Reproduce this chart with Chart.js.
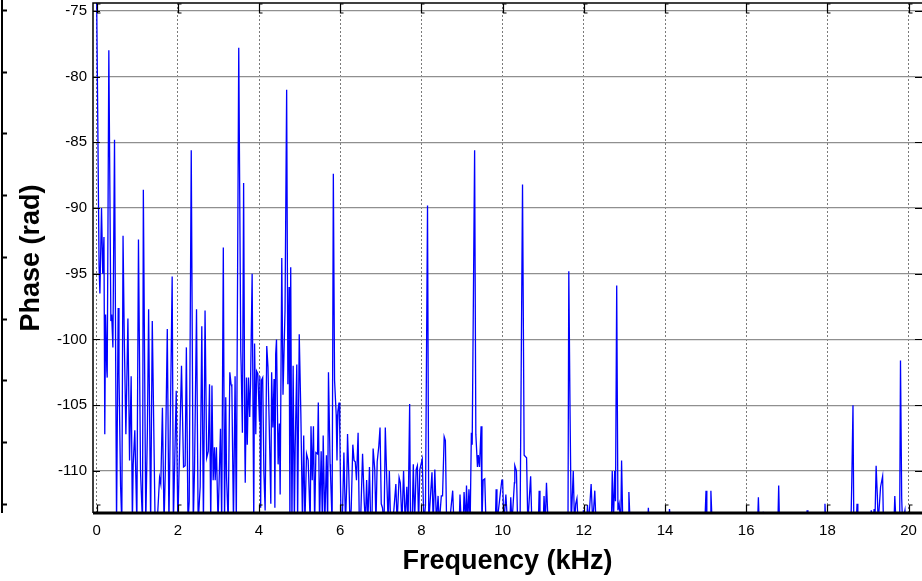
<!DOCTYPE html>
<html>
<head>
<meta charset="utf-8">
<title>Phase spectrum</title>
<script src="https://cdn.jsdelivr.net/npm/chart.js@4.4.1/dist/chart.umd.min.js"></script>
<style>
    html, body { margin: 0; padding: 0; background: #fff; }
    canvas { display: block; }
</style>
</head>
<body>
<canvas id="phaseChart" width="922" height="581"></canvas>
<script>
// values; -114 = below the axis floor (clipped)
const freqKHz = [
    0.00, 0.06, 0.08, 0.12, 0.15, 0.18, 0.20, 0.22, 0.25, 0.26, 0.30, 0.35, 0.37, 0.40, 0.44, 0.49,
    0.53, 0.55, 0.59, 0.62, 0.65, 0.68, 0.72, 0.77, 0.81, 0.85, 0.88, 0.90, 0.94, 0.99, 1.03, 1.08,
    1.13, 1.15, 1.21, 1.25, 1.28, 1.33, 1.37, 1.44, 1.49, 1.55, 1.58, 1.62, 1.66, 1.69, 1.74, 1.78, 1.81,
    1.86, 1.89, 1.96, 2.00, 2.09, 2.14, 2.18, 2.21, 2.25, 2.28, 2.33, 2.38, 2.41, 2.46, 2.50, 2.55,
    2.59, 2.63, 2.67, 2.71, 2.75, 2.78, 2.81, 2.84, 2.87, 2.90, 2.92, 2.95, 2.99, 3.05, 3.08, 3.12,
    3.15, 3.18, 3.20, 3.24, 3.28, 3.31, 3.33, 3.37, 3.41, 3.44, 3.50, 3.55, 3.56, 3.59, 3.62, 3.65,
    3.66, 3.69, 3.71, 3.74, 3.77,
    3.79, 3.83, 3.87, 3.89, 3.92, 3.94, 3.97, 4.01, 4.02, 4.04, 4.06, 4.09, 4.12, 4.15, 4.19, 4.22,
    4.25, 4.29, 4.31, 4.34, 4.37, 4.39, 4.41, 4.43, 4.47, 4.50, 4.52, 4.56, 4.59, 4.64, 4.68, 4.71,
    4.74, 4.76, 4.78, 4.81, 4.84, 4.87, 4.89, 4.93, 4.95, 4.99, 5.03, 5.07, 5.10, 5.13, 5.17, 5.21,
    5.26, 5.28, 5.31, 5.34, 5.37, 5.40, 5.44, 5.46, 5.49, 5.53, 5.56, 5.58, 5.62, 5.66, 5.69, 5.71, 5.75,
    5.76, 5.80, 5.83, 5.86, 5.90, 5.92, 5.94, 5.97, 5.99, 6.02, 6.05, 6.09, 6.13, 6.16, 6.18, 6.21,
    6.24, 6.27, 6.31, 6.34, 6.37, 6.40, 6.44, 6.47, 6.50, 6.55, 6.59, 6.62, 6.65, 6.68, 6.72, 6.75,
    6.78, 6.81, 6.85, 6.88, 6.91, 6.95, 6.98, 7.01, 7.04, 7.08, 7.11, 7.14, 7.18, 7.21, 7.24, 7.28,
    7.32, 7.37, 7.40, 7.45, 7.48, 7.52, 7.56, 7.60, 7.64, 7.67, 7.71, 7.73, 7.77, 7.80, 7.83, 7.87,
    7.90, 7.93, 7.96,
    8.02, 8.06, 8.10, 8.15, 8.18, 8.26, 8.29, 8.33, 8.37, 8.41, 8.44, 8.49, 8.52, 8.56, 8.59, 8.62,
    8.69, 8.77, 8.80, 8.93, 8.95, 8.98, 9.03, 9.05, 9.09, 9.11, 9.14, 9.17, 9.20, 9.23, 9.25, 9.31,
    9.34, 9.38, 9.40, 9.43, 9.47, 9.49, 9.52, 9.56, 9.59, 9.82, 9.84, 9.86, 9.98, 10.00, 10.03, 10.08,
    10.12, 10.18, 10.20, 10.23, 10.29, 10.30, 10.34, 10.37, 10.43, 10.49, 10.53, 10.59, 10.62, 10.69,
    10.72, 10.88, 10.90, 10.92, 11.00, 11.02, 11.05, 11.08, 11.12, 11.61, 11.63, 11.66, 11.69, 11.74,
    11.77, 11.80, 11.83, 11.86, 11.97, 11.99, 12.02, 12.07, 12.09, 12.12, 12.18, 12.22, 12.27, 12.30,
    12.68, 12.70, 12.73, 12.76, 12.78, 12.81, 12.84, 12.87, 12.91, 12.93, 12.96, 13.09, 13.11, 13.14,
    13.57, 13.59, 13.61, 14.09, 14.11, 14.14, 14.98, 15.01, 15.03, 15.11, 15.13, 15.16, 16.28, 16.30,
    16.32, 16.40, 16.42, 16.44, 16.78, 16.80, 16.82, 17.48, 17.50, 17.52, 17.92, 17.94, 17.96, 18.58,
    18.60, 18.63, 18.65, 18.71, 18.73, 18.75, 19.06, 19.08, 19.11, 19.13, 19.15, 19.17, 19.20, 19.23,
    19.25, 19.31, 19.36, 19.38, 19.64, 19.66, 19.69, 19.78, 19.80, 19.83, 19.85, 19.91, 19.93, 20.33
];
const phaseRad = [
    -74.0, -94.5, -96.5, -90.0, -95.0, -92.2, -107.2, -98.1, -102.4, -102.9, -78.0, -98.6, -98.1, -100.6, -84.8, -114,
    -97.6, -102.6, -111.2, -114, -92.1, -99.8, -107.2, -98.4, -109.2, -102.8, -114, -109.5, -106.9, -114, -92.4, -110.0,
    -114, -88.6, -114, -106.9, -97.7, -114, -98.6, -114, -114, -110.5, -111.0, -105.2, -114, -110.2, -99.2, -114, -107.4,
    -95.2, -114, -103.9, -114, -102.0, -109.7, -109.6, -100.6, -114, -112.3, -85.6, -114, -110.0, -97.7, -114, -111.2,
    -99.0, -114, -97.8, -109.0, -108.5, -103.4, -114, -103.5, -110.7, -108.2, -110.7, -108.2, -114, -106.8, -114, -93.0,
    -114, -104.4, -110.5, -114, -102.5, -103.4, -103.6, -114, -102.8, -114, -77.8, -100.9, -102.1, -107.1, -88.1, -108.2,
    -110.9, -102.9, -108.0, -102.9, -105.9,
    -103.4, -95.0, -114, -100.3, -107.2, -102.4, -102.6, -106.2, -102.8, -112.8, -103.1, -102.9, -110.2, -113.0, -100.5, -102.1,
    -106.4, -112.5, -102.5, -106.7, -103.0, -112.8, -101.1, -100.0, -109.5, -106.4, -111.8, -93.8, -104.2, -97.8, -81.0, -103.4,
    -96.0, -114, -94.5, -114, -102.0, -114, -108.2, -101.9, -114, -99.6, -105.7, -114, -107.3, -114, -108.7, -109.2,
    -114, -106.6, -110.7, -106.6, -114, -108.6, -108.7, -104.8, -114, -108.5, -114, -107.3, -114, -108.8, -114, -102.5, -109.5,
    -110.2, -114, -87.4, -103.1, -105.7, -109.2, -105.5, -104.8, -107.2, -114, -114, -108.6, -114, -111.0, -107.2, -110.2,
    -114, -112.9, -108.0, -109.2, -109.3, -110.7, -107.1, -114, -114, -108.7, -112.3, -114, -110.7, -114, -109.7, -114,
    -114, -108.3, -109.9, -114, -109.3, -108.1, -106.7, -112.5, -112.8, -114, -106.7, -110.0, -114, -110.0, -114, -114,
    -113.0, -111.0, -114, -110.5, -110.9, -114, -110.0, -114, -111.2, -114, -104.9, -114, -114, -109.5, -114, -109.9,
    -109.6, -114, -109.9,
    -109.1, -114, -112.6, -89.8, -114, -110.1, -114, -109.9, -114, -111.9, -114, -111.9, -111.9, -107.4, -107.7, -114,
    -114, -111.5, -114, -114, -111.8, -114, -114, -111.6, -114, -111.1, -114, -111.4, -114, -107.1, -108.0, -85.6,
    -107.2, -109.7, -108.8, -109.7, -106.6, -114, -110.7, -110.6, -114, -114, -111.4, -114, -110.7, -110.7, -114, -111.8,
    -114, -114, -112.0, -114, -110.9, -109.6, -110.0, -114, -114, -88.2, -108.8, -109.0, -114, -110.4,
    -114, -114, -111.5, -114, -114, -111.9, -114, -110.9, -114, -114, -94.8, -105.3, -114, -110.0,
    -114, -112.5, -112.1, -114, -114, -113.0, -114, -114, -112.6, -114, -111.0, -114, -111.5, -114,
    -114, -110.0, -114, -110.0, -112.3, -95.9, -113.0, -112.5, -114, -109.2, -114, -114, -111.6, -114,
    -114, -112.8, -114, -114, -112.9, -114, -114, -111.5, -114, -114, -111.5, -114, -114, -112.0,
    -114, -114, -113.1, -114, -114, -111.1, -114, -114, -113.0, -114, -114, -112.5, -114, -114,
    -110.9, -105.0, -114, -114, -112.5, -114, -114, -113.0, -114, -114, -112.9, -114, -109.6, -111.9,
    -114, -111.2, -110.4, -114, -114, -111.9, -114, -114, -101.6, -112.1, -114, -113.0, -114, -114
];
const xTickValues = [0, 2, 4, 6, 8, 10, 12, 14, 16, 18, 20];
const yTickValues = [-75, -80, -85, -90, -95, -100, -105, -110];

const fontFamily = '"Liberation Sans", Arial, Helvetica, sans-serif';

// black box, inner tick marks and the clipped edge of the neighbouring panel
const framePlugin = {
    id: 'frame',
    afterDraw(chart) {
        const ctx = chart.ctx;
        const a = chart.chartArea;
        const xs = chart.scales.x;
        const ys = chart.scales.y;
        ctx.save();
        ctx.strokeStyle = '#000';
        ctx.lineWidth = 1.5;
        ctx.beginPath();
        ctx.moveTo(a.left, a.bottom);
        ctx.lineTo(a.left, a.top);
        ctx.lineTo(a.right, a.top);
        ctx.stroke();
        ctx.lineWidth = 3;
        ctx.beginPath();
        ctx.moveTo(a.left, a.bottom);
        ctx.lineTo(a.right, a.bottom);
        ctx.stroke();

        ctx.lineWidth = 1.2;
        xTickValues.forEach(v => {
            const px = Math.round(xs.getPixelForValue(v)) + 0.5;
            ctx.beginPath();
            ctx.moveTo(px + 3, a.bottom - 8);
            ctx.lineTo(px, a.bottom - 8);
            ctx.lineTo(px, a.bottom);
            ctx.moveTo(px + 3, a.top + 1);
            ctx.lineTo(px, a.top + 1);
            ctx.lineTo(px, a.top + 10);
            ctx.lineTo(px + 3, a.top + 10);
            ctx.stroke();
        });
        yTickValues.forEach(v => {
            const py = Math.round(ys.getPixelForValue(v)) + 0.5;
            ctx.beginPath();
            ctx.moveTo(a.left, py);
            ctx.lineTo(a.left + 7, py);
            ctx.moveTo(a.right - 7, py);
            ctx.lineTo(a.right, py);
            ctx.stroke();
        });

        ctx.lineWidth = 2;
        ctx.beginPath();
        ctx.moveTo(2, 0);
        ctx.lineTo(2, a.bottom);
        for (let y = 10; y < a.bottom; y += 61.7) {
            ctx.moveTo(2, Math.round(y) + 0.5);
            ctx.lineTo(7, Math.round(y) + 0.5);
        }
        ctx.stroke();
        ctx.restore();
    }
};

const points = freqKHz.map((f, i) => ({ x: f, y: phaseRad[i] }));

new Chart(document.getElementById('phaseChart'), {
    type: 'line',
    data: {
        datasets: [{
            data: points,
            borderColor: '#0000ff',
            borderWidth: 1.3,
            pointRadius: 0,
            tension: 0,
            fill: false
        }]
    },
    options: {
        responsive: false,
        animation: false,
        layout: { padding: { top: 3, left: 0, right: 0, bottom: 0 } },
        plugins: {
            legend: { display: false },
            tooltip: { enabled: false }
        },
        scales: {
            x: {
                type: 'linear',
                min: -0.09,
                max: 20.33,
                afterBuildTicks: s => { s.ticks = xTickValues.map(v => ({ value: v })); },
                afterFit: s => {
                    s.height = 68;
                    s.paddingLeft = 0;
                    s.paddingRight = 0;
                },
                grid: { color: '#7a7a7a', lineWidth: 1, drawTicks: false },
                border: { display: false, dash: [2, 2] },
                ticks: {
                    color: '#000',
                    font: { family: fontFamily, size: 15 },
                    padding: 9,
                    maxRotation: 0
                },
                title: {
                    display: true,
                    text: 'Frequency (kHz)',
                    color: '#000',
                    font: { family: fontFamily, size: 27, weight: 'bold' },
                    padding: { top: 0, bottom: 3 }
                }
            },
            y: {
                min: -113.2,
                max: -74.4,
                afterBuildTicks: s => { s.ticks = yTickValues.map(v => ({ value: v })); },
                afterFit: s => {
                    s.width = 93;
                    s.paddingTop = 0;
                    s.paddingBottom = 0;
                },
                grid: { color: '#8f8f8f', lineWidth: 1.3, drawTicks: false },
                border: { display: false },
                ticks: {
                    color: '#000',
                    font: { family: fontFamily, size: 15 },
                    padding: 6
                },
                title: {
                    display: true,
                    text: 'Phase (rad)',
                    color: '#000',
                    font: { family: fontFamily, size: 27, weight: 'bold' },
                    padding: { top: 15, bottom: 0 }
                }
            }
        }
    },
    plugins: [framePlugin]
});
</script>
</body>
</html>
